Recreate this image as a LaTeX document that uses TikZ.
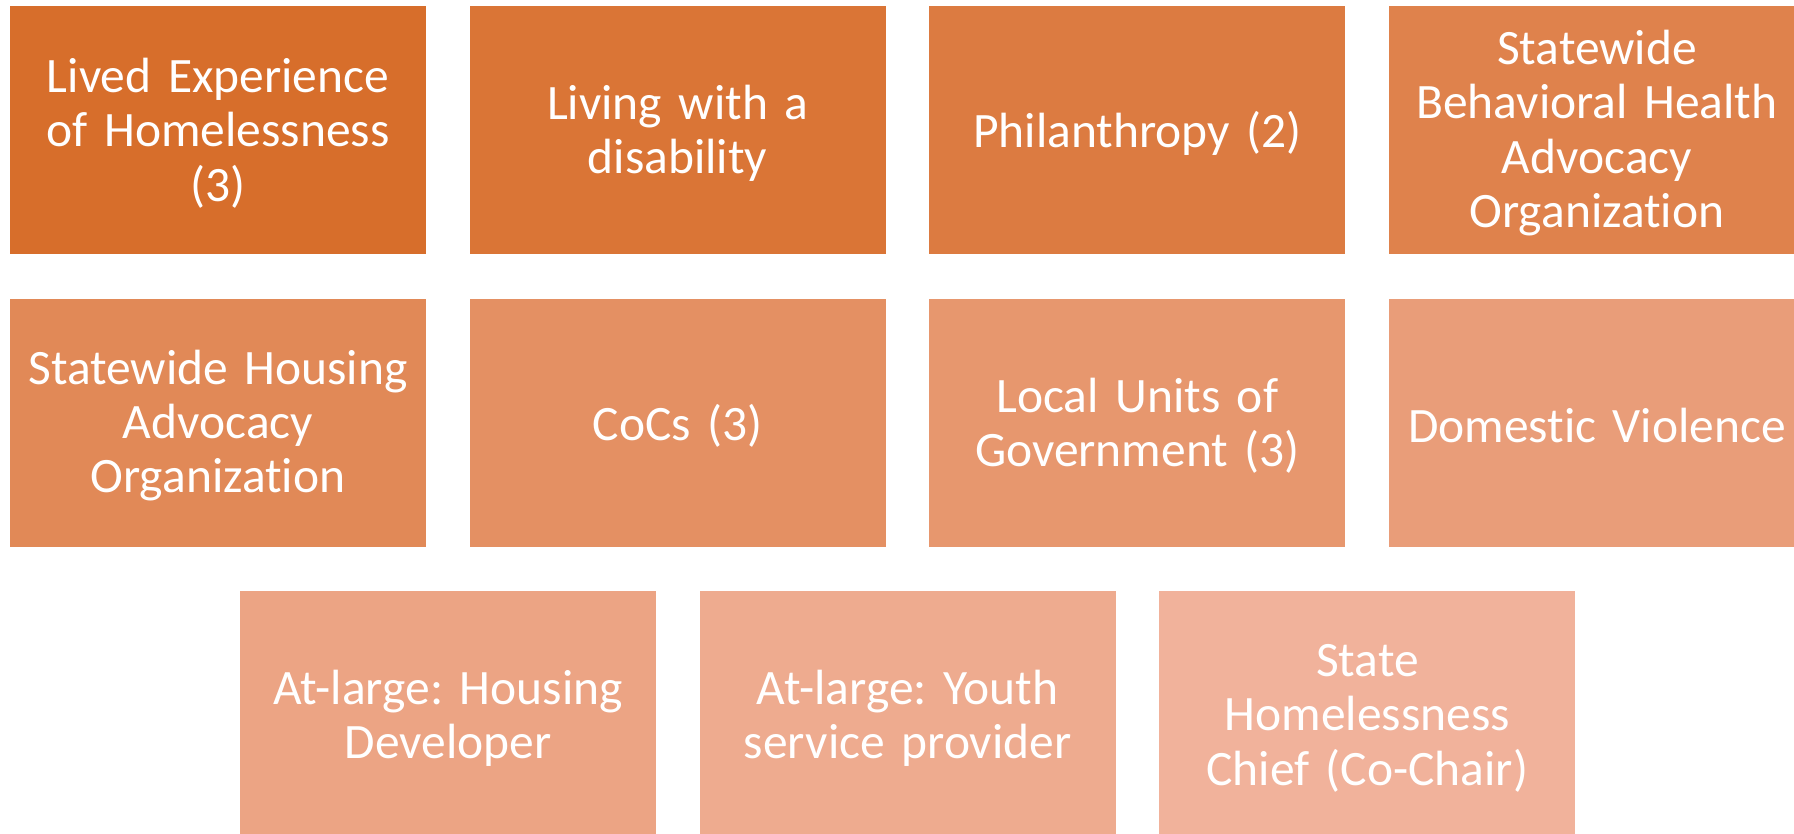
\documentclass[tikz,border=0pt]{standalone}
\usepackage{fontspec}
\setmainfont{Carlito}[RawFeature={-liga;-clig;-calt;-dlig}]
\frenchspacing
\definecolor{c1}{RGB}{215,110,43}
\definecolor{c2}{RGB}{218,117,54}
\definecolor{c3}{RGB}{220,123,65}
\definecolor{c4}{RGB}{223,130,76}
\definecolor{c5}{RGB}{225,137,87}
\definecolor{c6}{RGB}{228,144,99}
\definecolor{c7}{RGB}{231,151,110}
\definecolor{c8}{RGB}{233,157,121}
\definecolor{c9}{RGB}{236,164,132}
\definecolor{c10}{RGB}{238,171,143}
\definecolor{c11}{RGB}{241,178,155}
\tikzset{
  tile/.style={rectangle, inner sep=0pt, minimum width=416pt, minimum height=248pt},
  tiletext/.style={inner sep=0pt, yshift=-3pt, text=white, align=center,
    font=\fontsize{49.5}{54.4}\selectfont, text width=416pt}
}
\begin{document}
\begin{tikzpicture}[x=1pt,y=-1pt]
\useasboundingbox (0,0) rectangle (1794,833);
\fill[white] (0,0) rectangle (1794,833);
\node[tile, fill=c1, label={[tiletext]center:{Lived Experience\\of Homelessness\\(3)}}] (n1) at (218,130) {};
\node[tile, fill=c2, label={[tiletext]center:{Living with a\\disability}}] (n2) at (677.7,130) {};
\node[tile, fill=c3, label={[tiletext]center:{Philanthropy (2)}}] (n3) at (1137.4,130) {};
\node[tile, fill=c4, label={[tiletext]center:{Statewide\\Behavioral Health\\Advocacy\\Organization}}] (n4) at (1597,130) {};
\node[tile, fill=c5, label={[tiletext]center:{Statewide Housing\\Advocacy\\Organization}}] (n5) at (218,422.5) {};
\node[tile, fill=c6, label={[tiletext]center:{CoCs (3)}}] (n6) at (677.7,422.5) {};
\node[tile, fill=c7, label={[tiletext]center:{Local Units of\\Government (3)}}] (n7) at (1137.4,422.5) {};
\node[tile, fill=c8, label={[tiletext]center:{Domestic Violence}}] (n8) at (1597,422.5) {};
\node[tile, fill=c9, label={[tiletext]center:{At-large: Housing\\Developer}}] (n9) at (448,715) {};
\node[tile, fill=c10, label={[tiletext]center:{At-large: Youth\\service provider}}] (n10) at (907.7,715) {};
\node[tile, fill=c11, label={[tiletext]center:{State\\Homelessness\\Chief (Co-Chair)}}] (n11) at (1367.4,715) {};
\end{tikzpicture}
\end{document}
